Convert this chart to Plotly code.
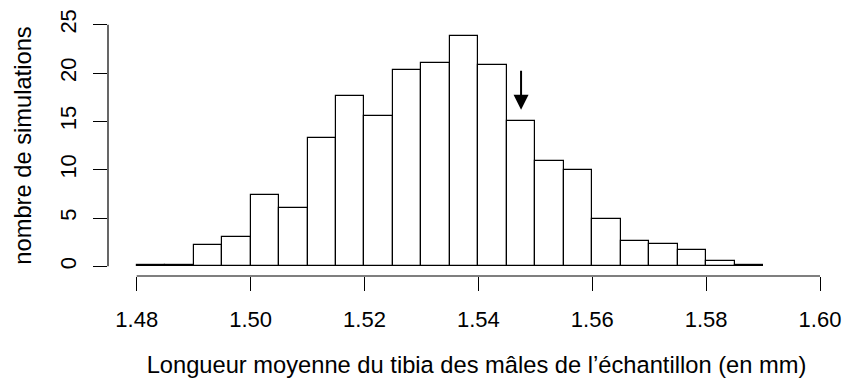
import plotly.graph_objects as go

# histogram bins (left edges, width 0.005) and their heights
bin_left = [1.480, 1.485, 1.490, 1.495, 1.500, 1.505, 1.510, 1.515, 1.520, 1.525, 1.530,
            1.535, 1.540, 1.545, 1.550, 1.555, 1.560, 1.565, 1.570, 1.575, 1.580, 1.585]
counts = [0.1, 0.1, 2.2, 3.0, 7.4, 6.0, 13.3, 17.6, 15.6, 20.3, 21.0,
          23.8, 20.8, 15.0, 10.9, 10.0, 4.9, 2.6, 2.3, 1.7, 0.6, 0.1]
bin_width = 0.005

x_ticks = [1.48, 1.50, 1.52, 1.54, 1.56, 1.58, 1.60]
x_labels = ["1.48", "1.50", "1.52", "1.54", "1.56", "1.58", "1.60"]
y_ticks = [0, 5, 10, 15, 20, 25]

# observed value marked by the arrow
obs_x = 1.5475
arrow_top = 20.4
arrow_tip = 16.2

FONT = "Liberation Sans, Arial, Helvetica, sans-serif"

centers = [b + bin_width / 2 for b in bin_left]

fig = go.Figure()
fig.add_trace(go.Bar(
	x=centers, y=counts, width=bin_width,
	marker=dict(color="white", line=dict(color="black", width=1.2)),
	hoverinfo="skip", showlegend=False))

fig.add_annotation(
	x=obs_x, y=arrow_tip, ax=obs_x, ay=arrow_top,
	xref="x", yref="y", axref="x", ayref="y",
	text="", showarrow=True, arrowhead=2, arrowsize=1.5, arrowwidth=2,
	arrowcolor="black")

# R-style axis lines that only span the tick range
fig.add_shape(type="line", xref="x", yref="paper",
	x0=x_ticks[0], x1=x_ticks[-1], y0=0, y1=0,
	line=dict(color="black", width=1.2))
fig.add_shape(type="line", xref="paper", yref="y",
	x0=0, x1=0, y0=y_ticks[0], y1=y_ticks[-1],
	line=dict(color="black", width=1.2))

fig.update_layout(
	width=845, height=379, autosize=False,
	margin=dict(l=108, r=0, t=15, b=103),
	paper_bgcolor="white", plot_bgcolor="white",
	font=dict(family=FONT, size=22, color="black"),
	bargap=0,
	xaxis=dict(
		range=[1.47496, 1.60439], showgrid=False, zeroline=False, showline=False,
		automargin=False,
		tickmode="array", tickvals=x_ticks, ticktext=x_labels,
		ticks="outside", ticklen=14, tickwidth=1.2, tickcolor="black",
		ticklabelstandoff=10, tickfont=dict(size=22),
		title=dict(text="Longueur moyenne du tibia des mâles de l’échantillon (en mm)",
			font=dict(size=23.7), standoff=25)),
	yaxis=dict(
		range=[-1, 26], showgrid=False, zeroline=False, showline=False,
		automargin=False,
		tickmode="array", tickvals=y_ticks, ticktext=[str(t) for t in y_ticks],
		ticks="outside", ticklen=14, tickwidth=1.2, tickcolor="black",
		tickangle=-90, ticklabelstandoff=8, tickfont=dict(size=22),
		title=dict(text="nombre de simulations", font=dict(size=23.7), standoff=17)),
)

# drop the default 8px page margin so the figure fills the window
fig.write_html("out.html", config={"displayModeBar": False},
	post_script="document.body.style.margin='0';")
